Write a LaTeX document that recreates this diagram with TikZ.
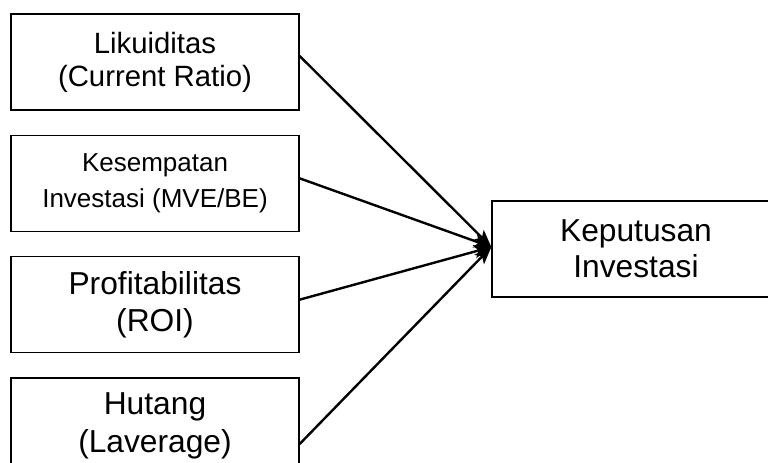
\documentclass[tikz,border=0pt]{standalone}
\usepackage{fontspec}
\setmainfont{Liberation Sans}
\usetikzlibrary{arrows.meta,positioning}

\begin{document}
\begin{tikzpicture}[
  x=0.75pt,y=-0.75pt,
  node distance=18pt,
  box/.style={draw,line width=1pt,align=center,minimum width=216pt,minimum height=72pt,inner sep=0pt},
  arr/.style={-{Stealth[length=13pt,width=10pt,inset=3pt]},line width=1.8pt}
]
\useasboundingbox (0,0) rectangle (768,463);
\clip (0,0) rectangle (768,463);
\node[box,font=\fontsize{22}{24.75}\selectfont] (lik) at (155,62) {Likuiditas\\(Current Ratio)};
\node[box,below=of lik,font=\fontsize{19.5}{26.8}\selectfont] (kes) {Kesempatan\\Investasi (MVE/BE)};
\node[box,below=of kes,font=\fontsize{23.8}{27.5}\selectfont] (prof) {Profitabilitas\\(ROI)};
\node[box,below=of prof,font=\fontsize{23.8}{28.5}\selectfont] (hut) {Hutang\\(Laverage)};
\node[box,font=\fontsize{23.8}{26.8}\selectfont] (kep) at (636,249) {Keputusan\\Investasi};
\draw[arr] ([yshift=4.5pt]lik.east) -- ([yshift=1.5pt]kep.west);
\draw[arr] ([yshift=3.75pt]kes.east) -- ([yshift=1.5pt]kep.west);
\draw[arr] ([yshift=3.75pt]prof.east) -- ([yshift=1.5pt]kep.west);
\draw[arr] ([yshift=-13.5pt]hut.east) -- ([yshift=1.5pt]kep.west);
\end{tikzpicture}
\end{document}
